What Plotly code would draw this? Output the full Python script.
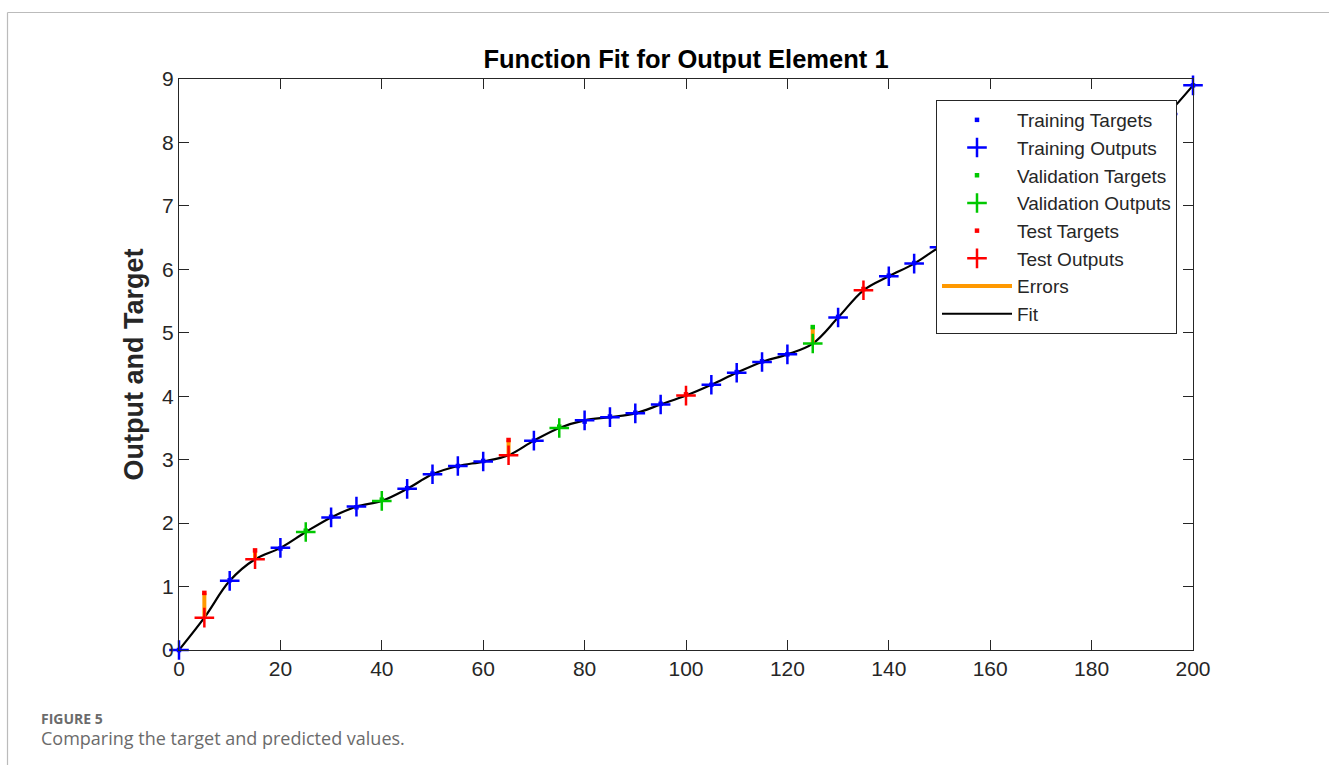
import plotly.graph_objects as go

# ---- data -------------------------------------------------------------
train_x = [0, 10, 20, 30, 35, 45, 50, 55, 60, 70, 80, 85, 90, 95, 105, 110,
           115, 120, 130, 140, 145, 150, 155, 160, 165, 170, 175, 180, 185,
           190, 195, 200]
train_out = [0.00, 1.09, 1.61, 2.09, 2.26, 2.54, 2.77, 2.90, 2.97, 3.30, 3.62,
             3.67, 3.73, 3.87, 4.18, 4.37, 4.54, 4.66, 5.24, 5.89, 6.09, 6.35,
             6.55, 6.72, 6.90, 7.10, 7.30, 7.52, 7.78, 8.08, 8.45, 8.90]
train_tgt = [0.00, 1.10, 1.60, 2.10, 2.25, 2.55, 2.78, 2.90, 2.98, 3.30, 3.60,
             3.68, 3.74, 3.88, 4.18, 4.38, 4.55, 4.66, 5.25, 5.90, 6.10, 6.35,
             6.55, 6.72, 6.90, 7.10, 7.30, 7.52, 7.78, 8.08, 8.45, 8.90]

val_x = [25, 40, 75, 125]
val_out = [1.86, 2.35, 3.50, 4.83]
val_tgt = [1.88, 2.37, 3.52, 5.09]

test_x = [5, 15, 65, 100, 135]
test_out = [0.51, 1.43, 3.07, 4.01, 5.67]
test_tgt = [0.90, 1.57, 3.31, 4.03, 5.69]

x_ticks = [0, 20, 40, 60, 80, 100, 120, 140, 160, 180, 200]
y_ticks = [0, 1, 2, 3, 4, 5, 6, 7, 8, 9]

# ---- styling ----------------------------------------------------------
W, H = 1329, 765
ML, MR, MT, MB = 179, 136, 79, 115
BLUE, GREEN, RED, ORANGE = "#0000FF", "#00C800", "#FF0000", "#FF9900"
AXIS = "#262626"
SANS = "Liberation Sans, Arial, sans-serif"
CAPTION = "Open Sans, Lato, sans-serif"

# fit curve through every network output, ordered by input
all_pts = sorted(zip(train_x + val_x + test_x, train_out + val_out + test_out))
fit_x = [p[0] for p in all_pts]
fit_y = [p[1] for p in all_pts]

# vertical error segments from each output to its target
err_x, err_y = [], []
for xs, outs, tgts in ((train_x, train_out, train_tgt),
                       (val_x, val_out, val_tgt),
                       (test_x, test_out, test_tgt)):
    for x, o, t in zip(xs, outs, tgts):
        err_x += [x, x, None]
        err_y += [o, t, None]

fig = go.Figure()

fig.add_trace(go.Scatter(
    x=fit_x, y=fit_y, mode="lines", name="Fit", legendrank=8,
    line=dict(color="black", width=2.2, shape="spline", smoothing=1.0)))

fig.add_trace(go.Scatter(
    x=err_x, y=err_y, mode="lines", name="Errors", legendrank=7,
    line=dict(color=ORANGE, width=4)))


def target_trace(x, y, color, name, rank):
    return go.Scatter(
        x=x, y=y, mode="markers", name=name, legendrank=rank, cliponaxis=False,
        marker=dict(symbol="square", size=4.5, color=color, line=dict(width=0)))


def output_trace(x, y, color, name, rank):
    return go.Scatter(
        x=x, y=y, mode="markers", name=name, legendrank=rank, cliponaxis=False,
        marker=dict(symbol="cross-thin", size=14,
                    line=dict(color=color, width=2.5)))


fig.add_trace(target_trace(train_x, train_tgt, BLUE, "Training Targets", 1))
fig.add_trace(target_trace(val_x, val_tgt, GREEN, "Validation Targets", 3))
fig.add_trace(target_trace(test_x, test_tgt, RED, "Test Targets", 5))
fig.add_trace(output_trace(train_x, train_out, BLUE, "Training Outputs", 2))
fig.add_trace(output_trace(val_x, val_out, GREEN, "Validation Outputs", 4))
fig.add_trace(output_trace(test_x, test_out, RED, "Test Outputs", 6))

axis_common = dict(
    showline=True, linecolor=AXIS, linewidth=1, mirror="ticks",
    ticks="inside", ticklen=10, tickwidth=1, tickcolor=AXIS,
    showgrid=False, zeroline=False,
    tickfont=dict(family=SANS, size=21, color=AXIS),
)

pw, ph = W - ML - MR, H - MT - MB


def px_x(p):
    return (p - ML) / pw


def px_y(p):
    return (H - MB - p) / ph


fig.update_layout(
    width=W, height=H, autosize=False,
    margin=dict(l=ML, r=MR, t=MT, b=MB),
    paper_bgcolor="white", plot_bgcolor="white",
    title=dict(text="<b>Function Fit for Output Element 1</b>",
               font=dict(family=SANS, size=25.5, color="black"),
               x=0.5, xref="paper", xanchor="center",
               y=1 - 59 / H, yref="container", yanchor="middle"),
    xaxis=dict(range=[0, 200], tickvals=x_ticks, **axis_common),
    yaxis=dict(range=[0, 9], tickvals=y_ticks,
               title=dict(text="<b>Output and Target</b>", standoff=10,
                          font=dict(family=SANS, size=27, color=AXIS)),
               **axis_common),
    legend=dict(
        x=px_x(1177), y=px_y(100), xanchor="right", yanchor="top",
        bgcolor="white", bordercolor=AXIS, borderwidth=1,
        font=dict(family=SANS, size=19, color=AXIS),
        itemwidth=70, tracegroupgap=0,
    ),
    showlegend=True,
)

# page frame lines around the figure panel
fig.add_shape(type="line", xref="paper", yref="paper", layer="above",
              x0=px_x(7.5), x1=px_x(W), y0=px_y(12.5), y1=px_y(12.5),
              line=dict(color="#BBBBBB", width=1.2))
fig.add_shape(type="line", xref="paper", yref="paper", layer="above",
              x0=px_x(7.5), x1=px_x(7.5), y0=px_y(12.5), y1=px_y(H),
              line=dict(color="#BBBBBB", width=1.2))

# caption
fig.add_annotation(text="<b>FIGURE 5</b>", xref="paper", yref="paper",
                   x=px_x(39), y=px_y(718), xanchor="left", yanchor="middle",
                   showarrow=False,
                   font=dict(family=CAPTION, size=14, color="#6B6B6B"))
fig.add_annotation(text="Comparing the target and predicted values.",
                   xref="paper", yref="paper",
                   x=px_x(39), y=px_y(738), xanchor="left", yanchor="middle",
                   showarrow=False,
                   font=dict(family=CAPTION, size=18, color="#6B6B6B"))

fig.write_html("out.html")
